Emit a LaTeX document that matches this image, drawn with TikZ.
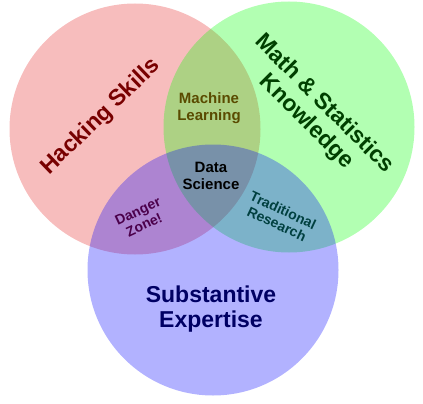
\documentclass[tikz,border=0pt]{standalone}
\usepackage{fontspec}
\setmainfont{Liberation Sans}
\usetikzlibrary{positioning}

\definecolor{hackred}{RGB}{225,0,0}
\definecolor{mathgreen}{RGB}{0,255,0}
\definecolor{expblue}{RGB}{0,0,255}
\definecolor{hacktext}{RGB}{120,0,0}
\definecolor{mathtext}{RGB}{0,64,0}
\definecolor{exptext}{RGB}{0,0,100}
\definecolor{mltext}{RGB}{90,75,0}
\definecolor{dangertext}{RGB}{75,0,75}
\definecolor{tradtext}{RGB}{0,64,64}

\tikzset{
	vset/.style={circle, minimum size=251pt, inner sep=0pt, fill opacity=0.3},
	biglabel/.style={font=\bfseries\fontsize{23}{25}\selectfont, align=center},
	midlabel/.style={font=\bfseries\fontsize{15}{17}\selectfont, align=center},
	smalllabel/.style={font=\bfseries\fontsize{14}{15}\selectfont, align=center}
}

\begin{document}
\begin{tikzpicture}[x=1pt, y=-1pt]
	\useasboundingbox (0,0) rectangle (423,404);
	%% the three sets
	\node [vset, fill=hackred, fill opacity=0.26] (Hack) at (135,129) {};
	\node [vset, fill=mathgreen] (Math) at (289,127) {};
	\node [vset, fill=expblue] (Exp) at (213,270) {};
	%% set labels
	\node [biglabel, text=hacktext, rotate=44] (HackText) at (101,117) {Hacking Skills};
	\node [biglabel, text=mathtext, rotate=-45] (MathText) at (315,113) {Math \& Statistics\\Knowledge};
	\node [biglabel, text=exptext] (ExpText) at (211,309) {Substantive\\Expertise};
	%% overlaps
	\node [midlabel, text=mltext] (MLText) at (209,108) {Machine\\Learning};
	\node [midlabel, text=black] (DSText) at (211,176) {Data\\Science};
	\node [smalllabel, text=dangertext, rotate=25] (DangerText) at (141,218) {Danger\\Zone!};
	\node [smalllabel, text=tradtext, rotate=-25] (TradText) at (280,217) {Traditional\\Research};
\end{tikzpicture}
\end{document}
